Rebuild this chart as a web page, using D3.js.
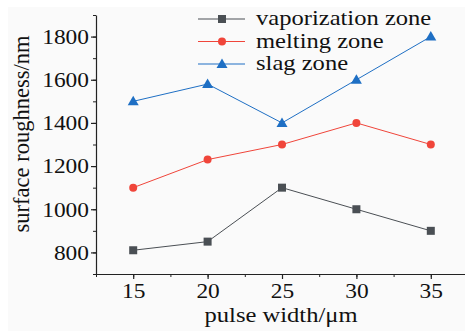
<!DOCTYPE html>
<html lang="en">
<head>
  <meta charset="UTF-8">
  <title>Surface roughness vs pulse width</title>
  <style>
    body { margin: 0; background: #fff; }
    svg { display: block; }
  </style>
  <script src="https://d3js.org/d3.v7.min.js"></script>
</head>
<body>
  <svg id="chart" width="465" height="331"></svg>

  <script>
    // data
    const pulseWidths = [15, 20, 25, 30, 35];
    const vaporization = [810, 850, 1100, 1000, 900];
    const melting = [1100, 1230, 1300, 1400, 1300];
    const slag = [1500, 1580, 1400, 1600, 1800];
    const xTicks = [15, 20, 25, 30, 35];
    const yTicks = [800, 1000, 1200, 1400, 1600, 1800];

    const series = [
      { name: 'vaporization zone', values: vaporization, color: '#4a4f54', marker: 'square' },
      { name: 'melting zone', values: melting, color: '#f0453a', marker: 'circle' },
      { name: 'slag zone', values: slag, color: '#1e6fc4', marker: 'triangle' }
    ];

    const serif = '"Liberation Serif"';
    const stretch = 1.17;   // the reference text is a little wider than it is tall

    const svg = d3.select('#chart');

    // light panel behind the plot
    svg.append('rect')
      .attr('x', 8).attr('y', 7)
      .attr('width', 457).attr('height', 324)
      .attr('fill', '#fafafa');

    const plot = { left: 96, right: 468, top: 15, bottom: 274 };

    const x = d3.scaleLinear().domain([12.5, 37.5]).range([plot.left, plot.right]);
    const y = d3.scaleLinear().domain([700, 1900]).range([plot.bottom, plot.top]);

    // minor ticks
    const xMinor = d3.range(12.5, 37.6, 2.5);
    const yMinor = d3.range(700, 1901, 100);

    svg.append('g')
      .attr('transform', `translate(0,${plot.bottom})`)
      .call(d3.axisBottom(x).tickValues(xMinor).tickSize(3).tickFormat(''))
      .call(g => g.select('.domain').remove())
      .selectAll('line').attr('stroke', '#222');

    svg.append('g')
      .attr('transform', `translate(${plot.left},0)`)
      .call(d3.axisLeft(y).tickValues(yMinor).tickSize(3).tickFormat(''))
      .call(g => g.select('.domain').remove())
      .selectAll('line').attr('stroke', '#222');

    // major axes
    const xAxis = svg.append('g')
      .attr('transform', `translate(0,${plot.bottom})`)
      .call(d3.axisBottom(x).tickValues(xTicks).tickFormat(d3.format('d'))
        .tickSize(5).tickSizeOuter(0).tickPadding(3));

    const yAxis = svg.append('g')
      .attr('transform', `translate(${plot.left},0)`)
      .call(d3.axisLeft(y).tickValues(yTicks).tickFormat(d3.format('d'))
        .tickSize(5).tickSizeOuter(0).tickPadding(1));

    [xAxis, yAxis].forEach(g => {
      g.select('.domain').attr('stroke', '#222').attr('stroke-width', 1.2);
      g.selectAll('line').attr('stroke', '#222').attr('stroke-width', 1.2);
      g.selectAll('text')
        .style('font-family', serif)
        .style('font-size', '20px')
        .attr('fill', '#111')
        .attr('transform', `scale(${stretch},1)`);
    });
    xAxis.selectAll('text').attr('dy', '0.8em');
    yAxis.selectAll('text').attr('dy', '0.34em');

    // axis titles
    svg.append('text')
      .attr('transform', `translate(${x(25) - 1},322) scale(${stretch},1)`)
      .attr('text-anchor', 'middle')
      .style('font-family', serif)
      .style('font-size', '21px')
      .attr('fill', '#111')
      .text('pulse width/\u03bcm');

    svg.append('text')
      .attr('transform', 'translate(29,134) rotate(-90)')
      .attr('text-anchor', 'middle')
      .style('font-family', serif)
      .style('font-size', '22.5px')
      .attr('fill', '#111')
      .text('surface roughness/nm');

    const line = d3.line()
      .x((d, i) => x(pulseWidths[i]))
      .y(d => y(d));

    function drawMarker(g, type, cx, cy, color) {
      if (type === 'square') {
        g.append('rect')
          .attr('x', cx - 4).attr('y', cy - 4)
          .attr('width', 8).attr('height', 8)
          .attr('fill', color);
      } else if (type === 'circle') {
        g.append('circle')
          .attr('cx', cx).attr('cy', cy).attr('r', 4)
          .attr('fill', color);
      } else {
        g.append('path')
          .attr('d', `M${cx},${cy - 5.5}L${cx + 5.5},${cy + 4}L${cx - 5.5},${cy + 4}Z`)
          .attr('fill', color);
      }
    }

    series.forEach(s => {
      const g = svg.append('g');
      g.append('path')
        .datum(s.values)
        .attr('d', line)
        .attr('fill', 'none')
        .attr('stroke', s.color)
        .attr('stroke-width', 1);
      s.values.forEach((v, i) => drawMarker(g, s.marker, x(pulseWidths[i]), y(v), s.color));
    });

    // legend
    const legend = svg.append('g');
    series.forEach((s, i) => {
      const ly = 19 + i * 22.5;
      legend.append('line')
        .attr('x1', 198).attr('x2', 245)
        .attr('y1', ly).attr('y2', ly)
        .attr('stroke', s.color).attr('stroke-width', 1.2);
      drawMarker(legend, s.marker, 222, ly, s.color);
      legend.append('text')
        .attr('transform', `translate(256,${ly + 6}) scale(${stretch},1)`)
        .style('font-family', serif)
        .style('font-size', '21px')
        .attr('fill', '#111')
        .text(s.name);
    });
  </script>
</body>
</html>
